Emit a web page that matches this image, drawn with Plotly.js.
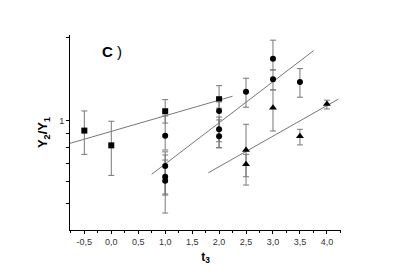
<!DOCTYPE html>
<html><head><meta charset="utf-8">
<script src="https://cdn.plot.ly/plotly-3.0.1.min.js"></script>
<style>body{margin:0;background:#fff}#chart{width:396px;height:276px}</style>
</head><body><div id="chart"></div>
<script>
// Squares
const sqX = [-0.5, 0, 1, 2];
const sqY = [0.920, 0.813, 1.082, 1.197];
const sqErrPlus = [0.165, 0.182, 0.111, 0.144];
const sqErrMinus = [0.166, 0.181, 0.102, 0.087];
// Circles
const circX = [1, 1, 1, 1, 2, 2, 2, 2.5, 3, 3, 3.5];
const circY = [0.882, 0.684, 0.625, 0.604, 1.085, 0.930, 0.877, 1.275, 1.679, 1.415, 1.384];
const circErrPlus = [0.158, 0.086, 0.094, 0.146, 0.088, 0.101, 0.129, 0.152, 0.284, 0.115, 0.163];
const circErrMinus = [0.100, 0.143, 0.164, 0.068, 0.247, 0.133, 0.080, 0.156, 0.149, 0.121, 0.167];
// Triangles
const triX = [2.5, 2.5, 3, 3.5, 4];
const triY = [0.782, 0.694, 1.115, 0.877, 1.150];
const triErrPlus = [0.188, 0.060, 0.179, 0.053, 0.037];
const triErrMinus = [0.157, 0.111, 0.198, 0.061, 0.047];
// Fit lines
const sqFitX = [-0.766, 2.25];
const sqFitY = [0.827, 1.227];
const circFitX = [0.75, 3.755];
const circFitY = [0.638, 1.799];
const triFitX = [1.80, 4.21];
const triFitY = [0.646, 1.197];
// Ticks
const xTickVals = [-0.5, 0, 0.5, 1, 1.5, 2, 2.5, 3, 3.5, 4];
const xTickText = ['-0,5', '0,0', '0,5', '1,0', '1,5', '2,0', '2,5', '3,0', '3,5', '4,0'];
const xMinorVals = [-0.75, -0.25, 0.25, 0.75, 1.25, 1.75, 2.25, 2.75, 3.25, 3.75, 4.25];
const yTickVals = [1];
const yTickText = ['1'];
const yMinorVals = [0.5, 0.6, 0.7, 0.8, 0.9, 2];

function errs(p, m) {
  return {type: 'data', symmetric: false, array: p, arrayminus: m,
          color: '#777', thickness: 1, width: 3};
}
const lineStyle = {color: '#777', width: 1};
const data = [
  {x: sqFitX, y: sqFitY, mode: 'lines', line: lineStyle, showlegend: false},
  {x: circFitX, y: circFitY, mode: 'lines', line: lineStyle, showlegend: false},
  {x: triFitX, y: triFitY, mode: 'lines', line: lineStyle, showlegend: false},
  {x: sqX, y: sqY, mode: 'markers', marker: {symbol: 'square', size: 6, color: '#000'},
   error_y: errs(sqErrPlus, sqErrMinus), showlegend: false},
  {x: circX, y: circY, mode: 'markers', marker: {symbol: 'circle', size: 6, color: '#000'},
   error_y: errs(circErrPlus, circErrMinus), showlegend: false},
  {x: triX, y: triY, mode: 'markers', marker: {symbol: 'triangle-up', size: 7, color: '#000'},
   error_y: errs(triErrPlus, triErrMinus), showlegend: false}
];
const layout = {
  width: 396, height: 276,
  margin: {l: 70, r: 55, t: 35, b: 46},
  paper_bgcolor: '#fff', plot_bgcolor: '#fff',
  font: {family: 'Liberation Sans, Arial, sans-serif', color: '#222'},
  xaxis: {
    range: [-0.766, 4.262], showgrid: false, zeroline: false,
    showline: true, linecolor: '#000', linewidth: 1,
    tickmode: 'array', tickvals: xTickVals, ticktext: xTickText,
    ticks: 'outside', ticklen: 3, tickcolor: '#000', tickwidth: 1,
    tickfont: {size: 9, color: '#333'},
    minor: {tickmode: 'array', tickvals: xMinorVals, ticks: 'outside', ticklen: 2, tickcolor: '#000'},
    title: {text: '<b>t<sub>3</sub></b>', font: {size: 12, color: '#000'}, standoff: 6}
  },
  yaxis: {
    type: 'log', range: [Math.log10(0.4), Math.log10(2.05)],
    showgrid: false, zeroline: false,
    showline: true, linecolor: '#000', linewidth: 1,
    tickmode: 'array', tickvals: yTickVals, ticktext: yTickText,
    ticks: 'outside', ticklen: 3, tickcolor: '#000', tickwidth: 1,
    tickfont: {size: 9, color: '#333'},
    minor: {tickmode: 'array', tickvals: yMinorVals, ticks: 'outside', ticklen: 3, tickcolor: '#000'},
    title: {text: '<b>Y<sub>2</sub>/Y<sub>1</sub></b>', font: {size: 13, color: '#000'}, standoff: 8}
  },
  annotations: [{
    text: '<b>C</b> )', xref: 'paper', yref: 'paper', x: 0.155, y: 0.915,
    showarrow: false, font: {size: 15, color: '#000'}, xanchor: 'center', yanchor: 'middle'
  }]
};
Plotly.newPlot('chart', data, layout, {displayModeBar: false, staticPlot: true});
</script></body></html>
